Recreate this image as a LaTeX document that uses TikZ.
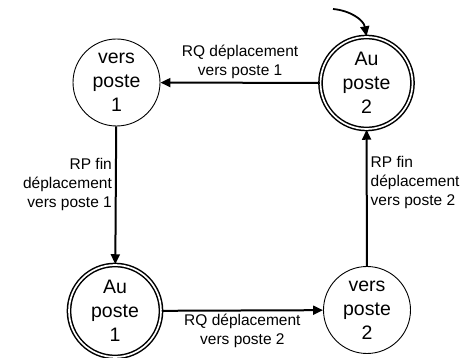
\documentclass[tikz,border=0pt]{standalone}
\usepackage{fontspec}
\setmainfont{Liberation Sans}
\usetikzlibrary{arrows.meta}
\tikzset{
  etat/.style={circle,draw=black,line width=0.9pt,fill=white,minimum size=87pt,
               inner sep=0pt,align=center,font=\fontsize{19.5}{24}\selectfont},
  etatfixe/.style={etat,line width=1.5pt,double,double distance=1.7pt,minimum size=92pt},
  trans/.style={-{Triangle[length=10pt,width=9pt]},line width=2pt},
  lbl/.style={font=\fontsize{15.5}{19}\selectfont,inner sep=3pt}
}

\begin{document}
\begin{tikzpicture}[x=1pt,y=-1pt]
  \useasboundingbox (0,0) rectangle (469,358);

  % etats
  \node[etat] (vers1) at (116.5,82.5) {vers\\poste\\1};
  \node[etatfixe] (au2) at (366.5,83) {Au\\poste\\2};
  \node[etatfixe] (au1) at (115,311) {Au\\poste\\1};
  \node[etat] (vers2) at (367,310) {vers\\poste\\2};

  % etat initial
  \coordinate (init) at (333,9);
  \draw[trans,line width=1.8pt] (init) to[out=-5,in=100] (au2.north);

  % transitions
  \draw[trans] (au2) -- node[lbl,above,align=center]
    {RQ déplacement\\vers poste 1} (vers1);
  \draw[trans] (vers1) -- node[lbl,left,align=right,pos=0.42]
    {RP fin\\déplacement\\vers poste 1} (au1);
  \draw[trans] (au1) -- node[lbl,below,align=center]
    {RQ déplacement\\vers poste 2} (vers2);
  \draw[trans] (vers2) -- node[lbl,right,align=left,pos=0.61]
    {RP fin\\déplacement\\vers poste 2} (au2);
\end{tikzpicture}
\end{document}
